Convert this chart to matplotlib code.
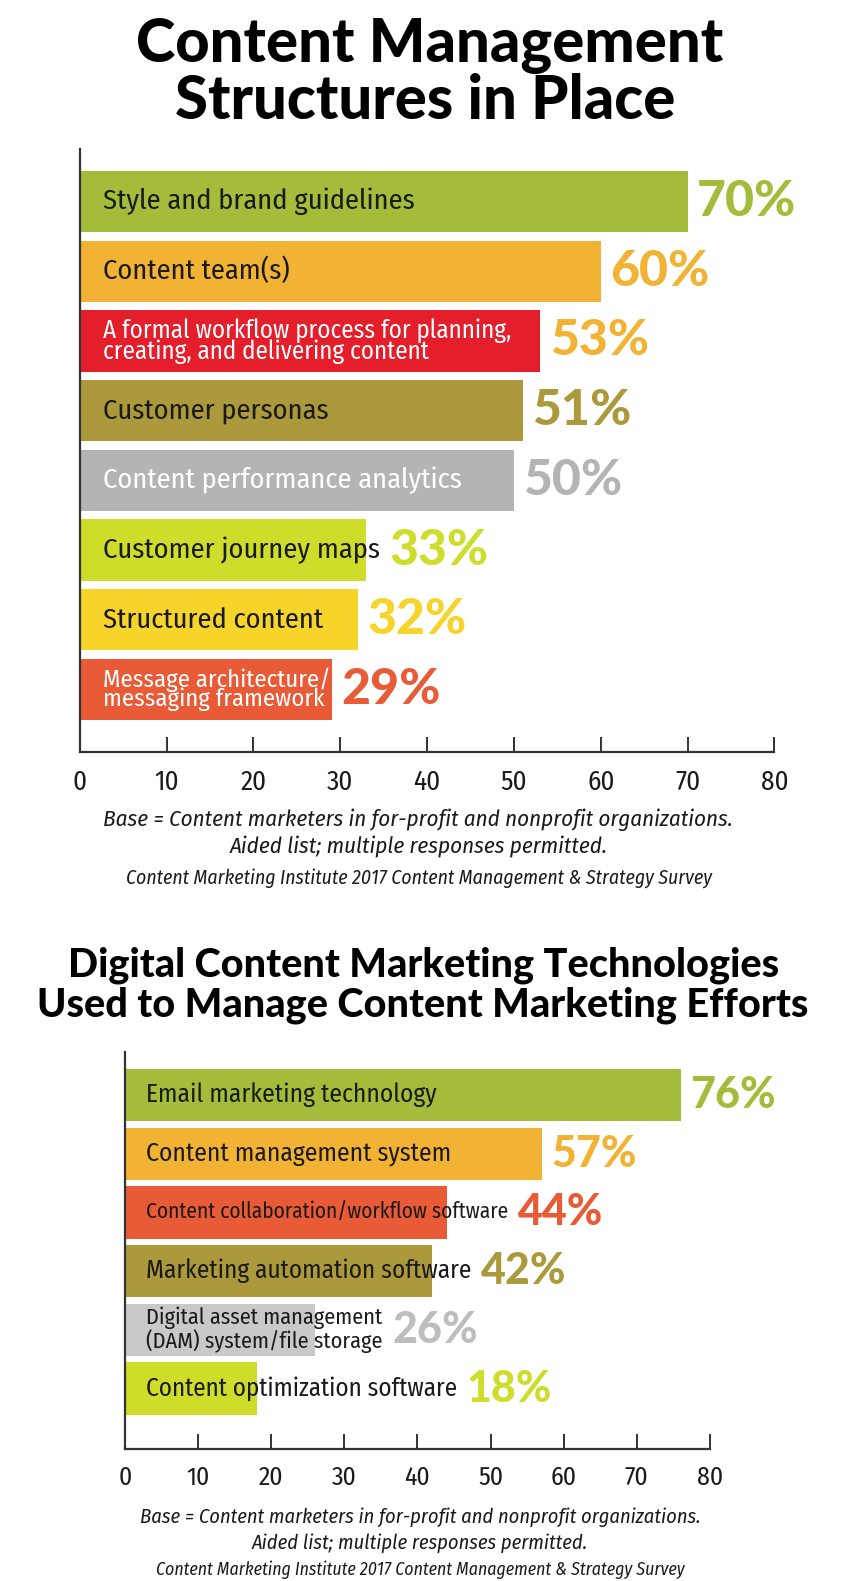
import matplotlib
matplotlib.use("Agg")
import matplotlib.pyplot as plt
from matplotlib import font_manager

# ---- data ----
top_labels = [
    "Style and brand guidelines",
    "Content team(s)",
    "A formal workflow process for planning,\ncreating, and delivering content",
    "Customer personas",
    "Content performance analytics",
    "Customer journey maps",
    "Structured content",
    "Message architecture/\nmessaging framework",
]
top_values = [70, 60, 53, 51, 50, 33, 32, 29]

bottom_labels = [
    "Email marketing technology",
    "Content management system",
    "Content collaboration/workflow software",
    "Marketing automation software",
    "Digital asset management\n(DAM) system/file storage",
    "Content optimization software",
]
bottom_values = [76, 57, 44, 42, 26, 18]

ticks = [0, 10, 20, 30, 40, 50, 60, 70, 80]

# ---- styles ----
GREEN = "#a5bc3a"
ORANGE = "#f2b233"
RED = "#e41e2b"
OLIVE = "#ab993c"
GRAY = "#b4b4b7"
LIME = "#cedc2a"
YELLOW = "#f6d42a"
ORANGERED = "#e95a36"

top_colors = [GREEN, ORANGE, RED, OLIVE, GRAY, LIME, YELLOW, ORANGERED]
top_text_colors = ["#1a1a1a", "#1a1a1a", "white", "#1a1a1a", "white", "#1a1a1a", "#1a1a1a", "white"]
top_pct_colors = [GREEN, ORANGE, ORANGE, OLIVE, GRAY, LIME, YELLOW, ORANGERED]
top_label_sizes = [20.5, 20.5, 18, 20.5, 20.5, 20.5, 20.5, 17.8]

bottom_colors = [GREEN, ORANGE, ORANGERED, OLIVE, "#c9c9c9", LIME]
bottom_pct_colors = [GREEN, ORANGE, ORANGERED, OLIVE, "#bdbdbd", LIME]
bottom_label_sizes = [18.4, 18.4, 15.4, 18.2, 16, 18]

fonts = font_manager.fontManager.ttflist


def pick(cands, weight=400, style="normal"):
    for c in cands:
        for f in fonts:
            if f.name == c and f.weight >= weight and f.style == style:
                return c
    return "DejaVu Sans"


NARROW = pick(["Liberation Sans Narrow", "Fira Sans Condensed", "Roboto Condensed",
               "PT Sans Narrow", "Open Sans Condensed"])
NARROW_IT = pick([NARROW, "Fira Sans Condensed", "Roboto Condensed"], style="italic")
HEAVY = pick(["Montserrat", "Lato", "Roboto"], weight=900)

fig = plt.figure(figsize=(8.5, 15.81), dpi=100)


def draw_panel(ax, labels, values, colors, text_colors, sizes, bar_h, ylim,
               tick_size, label_off, lsp):
    y = list(range(len(values)))
    ax.barh(y, values, height=bar_h, color=colors, zorder=2)
    ax.set_xlim(0, 80)
    ax.set_ylim(*ylim)
    ax.set_xticks(ticks)
    ax.set_xticklabels([str(t) for t in ticks], family=NARROW, fontsize=tick_size,
                       color="#1a1a1a")
    ax.set_yticks([])
    for s in ["top", "right"]:
        ax.spines[s].set_visible(False)
    for s in ["left", "bottom"]:
        ax.spines[s].set_color("#333333")
        ax.spines[s].set_linewidth(1.6)
    ax.tick_params(axis="x", direction="in", length=11, width=1.4,
                   color="#333333", pad=12)

    texts = []
    for i, lab in enumerate(labels):
        t = ax.annotate(lab, xy=(0, i), xytext=(label_off, 0),
                        textcoords="offset points", ha="left", va="center",
                        fontsize=sizes[i], family=NARROW, color=text_colors[i],
                        linespacing=lsp, zorder=3)
        texts.append(t)
    return texts


def add_pcts(ax, texts, values, pct_colors, pct_size):
    fig.canvas.draw()
    r = fig.canvas.get_renderer()
    inv = ax.transData.inverted()
    for i, (t, v) in enumerate(zip(texts, values)):
        bb = t.get_window_extent(r)
        x_end = inv.transform((bb.x1, bb.y0))[0]
        x0 = max(v, x_end)
        ax.annotate(f"{v}%", xy=(x0, i), xytext=(7, 0), textcoords="offset points",
                    ha="left", va="center", fontsize=pct_size, family=HEAVY,
                    fontweight="black", color=pct_colors[i], zorder=3)


# ---- top chart ----
fig.text(0.505, 0.9712, "Content Management", ha="center", va="center",
         fontsize=43, family=HEAVY, fontweight="black", color="black")
fig.text(0.50, 0.9362, "Structures in Place", ha="center", va="center",
         fontsize=43, family=HEAVY, fontweight="black", color="black")

ax1 = fig.add_axes([0.0938, 0.5242, 0.8173, 0.3814])
t1 = draw_panel(ax1, top_labels, top_values, top_colors, top_text_colors,
                top_label_sizes, 0.88, (7.9, -0.75), 19.5, 17, 0.78)

fig.text(0.492, 0.4813, "Base = Content marketers in for-profit and nonprofit organizations.",
         ha="center", va="center", fontsize=16.5, family=NARROW_IT, style="italic", color="#1a1a1a")
fig.text(0.492, 0.4643, "Aided list; multiple responses permitted.",
         ha="center", va="center", fontsize=16.5, family=NARROW_IT, style="italic", color="#1a1a1a")
fig.text(0.493, 0.4446, "Content Marketing Institute 2017 Content Management & Strategy Survey",
         ha="center", va="center", fontsize=14.2, family=NARROW_IT, style="italic", color="#1a1a1a")

# ---- bottom chart ----
fig.text(0.498, 0.3896, "Digital Content Marketing Technologies", ha="center", va="center",
         fontsize=28.5, family=HEAVY, fontweight="black", color="black")
fig.text(0.497, 0.3643, "Used to Manage Content Marketing Efforts", ha="center", va="center",
         fontsize=28.5, family=HEAVY, fontweight="black", color="black")

ax2 = fig.add_axes([0.1471, 0.0835, 0.6881, 0.2513])
t2 = draw_panel(ax2, bottom_labels, bottom_values, bottom_colors, ["#1a1a1a"] * 6,
                bottom_label_sizes, 0.89, (6.03, -0.74), 18.5, 15, 1.0)

fig.text(0.494, 0.0402, "Base = Content marketers in for-profit and nonprofit organizations.",
         ha="center", va="center", fontsize=14.7, family=NARROW_IT, style="italic", color="#1a1a1a")
fig.text(0.494, 0.0242, "Aided list; multiple responses permitted.",
         ha="center", va="center", fontsize=14.7, family=NARROW_IT, style="italic", color="#1a1a1a")
fig.text(0.494, 0.0070, "Content Marketing Institute 2017 Content Management & Strategy Survey",
         ha="center", va="center", fontsize=12.8, family=NARROW_IT, style="italic", color="#1a1a1a")

add_pcts(ax1, t1, top_values, top_pct_colors, 36)
add_pcts(ax2, t2, bottom_values, bottom_pct_colors, 31)

fig.savefig("out.png", dpi=100)
